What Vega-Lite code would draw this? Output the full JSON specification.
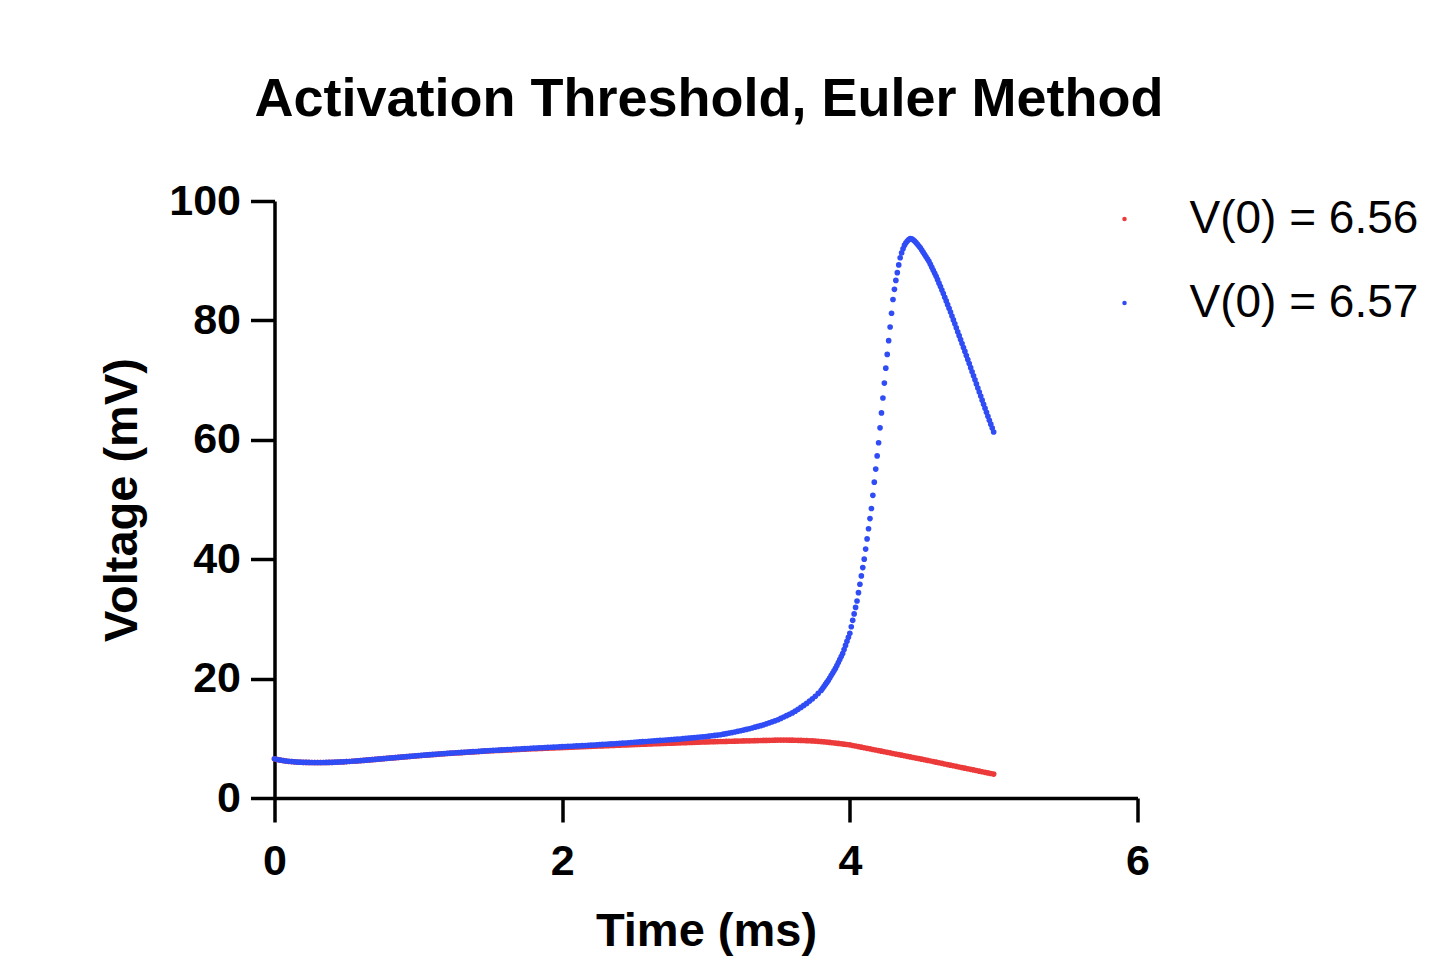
{
"$schema": "https://vega.github.io/schema/vega-lite/v6.json",
"width": 863,
"height": 597,
"autosize": {"type": "none"},
"padding": {"left": 274.5, "top": 201, "right": 311.5, "bottom": 171},
"background": "white",
"title": {"text": "Activation Threshold, Euler Method", "fontSize": 54, "font": "Liberation Sans", "fontWeight": "bold", "color": "black", "anchor": "middle", "offset": 53, "dx": 3},
"datasets": {
"red": [
{"t":0,"v":6.56},{"t":0.02,"v":6.44},{"t":0.04,"v":6.34},{"t":0.06,"v":6.26},{"t":0.08,"v":6.18},{"t":0.1,"v":6.12},{"t":0.12,"v":6.08},{"t":0.14,"v":6.04},{"t":0.16,"v":6.01},{"t":0.18,"v":5.99},
{"t":0.2,"v":5.97},{"t":0.22,"v":5.96},{"t":0.24,"v":5.95},{"t":0.26,"v":5.94},{"t":0.28,"v":5.93},{"t":0.3,"v":5.93},{"t":0.32,"v":5.93},{"t":0.34,"v":5.94},{"t":0.36,"v":5.95},{"t":0.38,"v":5.96},
{"t":0.4,"v":5.97},{"t":0.42,"v":5.99},{"t":0.44,"v":6.01},{"t":0.46,"v":6.03},{"t":0.48,"v":6.05},{"t":0.5,"v":6.08},{"t":0.52,"v":6.11},{"t":0.54,"v":6.15},{"t":0.56,"v":6.18},{"t":0.58,"v":6.22},
{"t":0.6,"v":6.25},{"t":0.62,"v":6.29},{"t":0.64,"v":6.34},{"t":0.66,"v":6.38},{"t":0.68,"v":6.42},{"t":0.7,"v":6.46},{"t":0.72,"v":6.51},{"t":0.74,"v":6.55},{"t":0.76,"v":6.59},{"t":0.78,"v":6.64},
{"t":0.8,"v":6.68},{"t":0.82,"v":6.72},{"t":0.84,"v":6.76},{"t":0.86,"v":6.8},{"t":0.88,"v":6.84},{"t":0.9,"v":6.88},{"t":0.92,"v":6.92},{"t":0.94,"v":6.96},{"t":0.96,"v":7.0},{"t":0.98,"v":7.04},
{"t":1.0,"v":7.08},{"t":1.02,"v":7.12},{"t":1.04,"v":7.16},{"t":1.06,"v":7.19},{"t":1.08,"v":7.23},{"t":1.1,"v":7.27},{"t":1.12,"v":7.3},{"t":1.14,"v":7.34},{"t":1.16,"v":7.38},{"t":1.18,"v":7.41},
{"t":1.2,"v":7.45},{"t":1.22,"v":7.48},{"t":1.24,"v":7.51},{"t":1.26,"v":7.54},{"t":1.28,"v":7.57},{"t":1.3,"v":7.6},{"t":1.32,"v":7.63},{"t":1.34,"v":7.66},{"t":1.36,"v":7.69},{"t":1.38,"v":7.72},
{"t":1.4,"v":7.75},{"t":1.42,"v":7.78},{"t":1.44,"v":7.81},{"t":1.46,"v":7.84},{"t":1.48,"v":7.87},{"t":1.5,"v":7.9},{"t":1.52,"v":7.92},{"t":1.54,"v":7.95},{"t":1.56,"v":7.97},{"t":1.58,"v":7.99},
{"t":1.6,"v":8.02},{"t":1.62,"v":8.04},{"t":1.64,"v":8.06},{"t":1.66,"v":8.09},{"t":1.68,"v":8.11},{"t":1.7,"v":8.13},{"t":1.72,"v":8.16},{"t":1.74,"v":8.18},{"t":1.76,"v":8.2},{"t":1.78,"v":8.23},
{"t":1.8,"v":8.25},{"t":1.82,"v":8.27},{"t":1.84,"v":8.29},{"t":1.86,"v":8.31},{"t":1.88,"v":8.33},{"t":1.9,"v":8.35},{"t":1.92,"v":8.37},{"t":1.94,"v":8.39},{"t":1.96,"v":8.41},{"t":1.98,"v":8.43},
{"t":2.0,"v":8.45},{"t":2.02,"v":8.47},{"t":2.04,"v":8.49},{"t":2.06,"v":8.51},{"t":2.08,"v":8.53},{"t":2.1,"v":8.55},{"t":2.12,"v":8.57},{"t":2.14,"v":8.59},{"t":2.16,"v":8.61},{"t":2.18,"v":8.63},
{"t":2.2,"v":8.65},{"t":2.22,"v":8.67},{"t":2.24,"v":8.69},{"t":2.26,"v":8.71},{"t":2.28,"v":8.73},{"t":2.3,"v":8.75},{"t":2.32,"v":8.77},{"t":2.34,"v":8.79},{"t":2.36,"v":8.81},{"t":2.38,"v":8.83},
{"t":2.4,"v":8.85},{"t":2.42,"v":8.87},{"t":2.44,"v":8.89},{"t":2.46,"v":8.91},{"t":2.48,"v":8.93},{"t":2.5,"v":8.95},{"t":2.52,"v":8.97},{"t":2.54,"v":8.99},{"t":2.56,"v":9.0},{"t":2.58,"v":9.02},
{"t":2.6,"v":9.04},{"t":2.62,"v":9.06},{"t":2.64,"v":9.08},{"t":2.66,"v":9.09},{"t":2.68,"v":9.11},{"t":2.7,"v":9.13},{"t":2.72,"v":9.15},{"t":2.74,"v":9.17},{"t":2.76,"v":9.18},{"t":2.78,"v":9.2},
{"t":2.8,"v":9.22},{"t":2.82,"v":9.24},{"t":2.84,"v":9.26},{"t":2.86,"v":9.27},{"t":2.88,"v":9.29},{"t":2.9,"v":9.31},{"t":2.92,"v":9.33},{"t":2.94,"v":9.35},{"t":2.96,"v":9.36},{"t":2.98,"v":9.38},
{"t":3.0,"v":9.4},{"t":3.02,"v":9.41},{"t":3.04,"v":9.42},{"t":3.06,"v":9.44},{"t":3.08,"v":9.45},{"t":3.1,"v":9.46},{"t":3.12,"v":9.47},{"t":3.14,"v":9.48},{"t":3.16,"v":9.5},{"t":3.18,"v":9.51},
{"t":3.2,"v":9.52},{"t":3.22,"v":9.53},{"t":3.24,"v":9.54},{"t":3.26,"v":9.56},{"t":3.28,"v":9.57},{"t":3.3,"v":9.58},{"t":3.32,"v":9.59},{"t":3.34,"v":9.6},{"t":3.36,"v":9.62},{"t":3.38,"v":9.63},
{"t":3.4,"v":9.64},{"t":3.42,"v":9.65},{"t":3.44,"v":9.66},{"t":3.46,"v":9.68},{"t":3.48,"v":9.69},{"t":3.5,"v":9.7},{"t":3.52,"v":9.7},{"t":3.54,"v":9.7},{"t":3.56,"v":9.7},{"t":3.58,"v":9.69},
{"t":3.6,"v":9.69},{"t":3.62,"v":9.68},{"t":3.64,"v":9.66},{"t":3.66,"v":9.65},{"t":3.68,"v":9.63},{"t":3.7,"v":9.61},{"t":3.72,"v":9.59},{"t":3.74,"v":9.56},{"t":3.76,"v":9.53},{"t":3.78,"v":9.49},
{"t":3.8,"v":9.45},{"t":3.82,"v":9.41},{"t":3.84,"v":9.36},{"t":3.86,"v":9.31},{"t":3.88,"v":9.26},{"t":3.9,"v":9.2},{"t":3.92,"v":9.14},{"t":3.94,"v":9.08},{"t":3.96,"v":9.02},{"t":3.98,"v":8.96},
{"t":4.0,"v":8.9},{"t":4.02,"v":8.8},{"t":4.04,"v":8.71},{"t":4.06,"v":8.61},{"t":4.08,"v":8.52},{"t":4.1,"v":8.42},{"t":4.12,"v":8.32},{"t":4.14,"v":8.23},{"t":4.16,"v":8.13},{"t":4.18,"v":8.04},
{"t":4.2,"v":7.94},{"t":4.22,"v":7.84},{"t":4.24,"v":7.75},{"t":4.26,"v":7.65},{"t":4.28,"v":7.56},{"t":4.3,"v":7.46},{"t":4.32,"v":7.36},{"t":4.34,"v":7.27},{"t":4.36,"v":7.17},{"t":4.38,"v":7.08},
{"t":4.4,"v":6.98},{"t":4.42,"v":6.88},{"t":4.44,"v":6.79},{"t":4.46,"v":6.69},{"t":4.48,"v":6.6},{"t":4.5,"v":6.5},{"t":4.52,"v":6.4},{"t":4.54,"v":6.3},{"t":4.56,"v":6.2},{"t":4.58,"v":6.1},
{"t":4.6,"v":6.0},{"t":4.62,"v":5.9},{"t":4.64,"v":5.8},{"t":4.66,"v":5.7},{"t":4.68,"v":5.6},{"t":4.7,"v":5.5},{"t":4.72,"v":5.4},{"t":4.74,"v":5.3},{"t":4.76,"v":5.2},{"t":4.78,"v":5.1},
{"t":4.8,"v":5.0},{"t":4.82,"v":4.9},{"t":4.84,"v":4.8},{"t":4.86,"v":4.7},{"t":4.88,"v":4.6},{"t":4.9,"v":4.5},{"t":4.92,"v":4.4},{"t":4.94,"v":4.3},{"t":4.96,"v":4.2},{"t":4.98,"v":4.1},
{"t":5.0,"v":4.0}
],
"blue": [
{"t":0,"v":6.57},{"t":0.02,"v":6.45},{"t":0.04,"v":6.35},{"t":0.06,"v":6.27},{"t":0.08,"v":6.19},{"t":0.1,"v":6.13},{"t":0.12,"v":6.09},{"t":0.14,"v":6.05},{"t":0.16,"v":6.02},{"t":0.18,"v":6.0},
{"t":0.2,"v":5.98},{"t":0.22,"v":5.97},{"t":0.24,"v":5.96},{"t":0.26,"v":5.95},{"t":0.28,"v":5.94},{"t":0.3,"v":5.94},{"t":0.32,"v":5.94},{"t":0.34,"v":5.95},{"t":0.36,"v":5.96},{"t":0.38,"v":5.97},
{"t":0.4,"v":5.98},{"t":0.42,"v":6.0},{"t":0.44,"v":6.02},{"t":0.46,"v":6.04},{"t":0.48,"v":6.06},{"t":0.5,"v":6.09},{"t":0.52,"v":6.12},{"t":0.54,"v":6.16},{"t":0.56,"v":6.19},{"t":0.58,"v":6.23},
{"t":0.6,"v":6.26},{"t":0.62,"v":6.3},{"t":0.64,"v":6.35},{"t":0.66,"v":6.39},{"t":0.68,"v":6.43},{"t":0.7,"v":6.47},{"t":0.72,"v":6.52},{"t":0.74,"v":6.56},{"t":0.76,"v":6.6},{"t":0.78,"v":6.65},
{"t":0.8,"v":6.69},{"t":0.82,"v":6.73},{"t":0.84,"v":6.77},{"t":0.86,"v":6.81},{"t":0.88,"v":6.85},{"t":0.9,"v":6.89},{"t":0.92,"v":6.94},{"t":0.94,"v":6.98},{"t":0.96,"v":7.02},{"t":0.98,"v":7.06},
{"t":1.0,"v":7.11},{"t":1.02,"v":7.15},{"t":1.04,"v":7.19},{"t":1.06,"v":7.22},{"t":1.08,"v":7.26},{"t":1.1,"v":7.3},{"t":1.12,"v":7.33},{"t":1.14,"v":7.37},{"t":1.16,"v":7.41},{"t":1.18,"v":7.44},
{"t":1.2,"v":7.48},{"t":1.22,"v":7.51},{"t":1.24,"v":7.54},{"t":1.26,"v":7.58},{"t":1.28,"v":7.61},{"t":1.3,"v":7.64},{"t":1.32,"v":7.67},{"t":1.34,"v":7.7},{"t":1.36,"v":7.73},{"t":1.38,"v":7.76},
{"t":1.4,"v":7.79},{"t":1.42,"v":7.82},{"t":1.44,"v":7.85},{"t":1.46,"v":7.89},{"t":1.48,"v":7.92},{"t":1.5,"v":7.95},{"t":1.52,"v":7.98},{"t":1.54,"v":8.0},{"t":1.56,"v":8.03},{"t":1.58,"v":8.06},
{"t":1.6,"v":8.08},{"t":1.62,"v":8.11},{"t":1.64,"v":8.13},{"t":1.66,"v":8.16},{"t":1.68,"v":8.19},{"t":1.7,"v":8.21},{"t":1.72,"v":8.24},{"t":1.74,"v":8.27},{"t":1.76,"v":8.29},{"t":1.78,"v":8.32},
{"t":1.8,"v":8.35},{"t":1.82,"v":8.37},{"t":1.84,"v":8.4},{"t":1.86,"v":8.42},{"t":1.88,"v":8.45},{"t":1.9,"v":8.47},{"t":1.92,"v":8.5},{"t":1.94,"v":8.52},{"t":1.96,"v":8.55},{"t":1.98,"v":8.57},
{"t":2.0,"v":8.6},{"t":2.02,"v":8.62},{"t":2.04,"v":8.65},{"t":2.06,"v":8.67},{"t":2.08,"v":8.7},{"t":2.1,"v":8.72},{"t":2.12,"v":8.75},{"t":2.14,"v":8.77},{"t":2.16,"v":8.8},{"t":2.18,"v":8.82},
{"t":2.2,"v":8.85},{"t":2.22,"v":8.88},{"t":2.24,"v":8.91},{"t":2.26,"v":8.94},{"t":2.28,"v":8.97},{"t":2.3,"v":9.0},{"t":2.32,"v":9.03},{"t":2.34,"v":9.06},{"t":2.36,"v":9.09},{"t":2.38,"v":9.12},
{"t":2.4,"v":9.15},{"t":2.42,"v":9.18},{"t":2.44,"v":9.22},{"t":2.46,"v":9.25},{"t":2.48,"v":9.29},{"t":2.5,"v":9.32},{"t":2.52,"v":9.36},{"t":2.54,"v":9.39},{"t":2.56,"v":9.43},{"t":2.58,"v":9.46},
{"t":2.6,"v":9.5},{"t":2.62,"v":9.53},{"t":2.64,"v":9.57},{"t":2.66,"v":9.6},{"t":2.68,"v":9.64},{"t":2.7,"v":9.67},{"t":2.72,"v":9.71},{"t":2.74,"v":9.74},{"t":2.76,"v":9.78},{"t":2.78,"v":9.81},
{"t":2.8,"v":9.85},{"t":2.82,"v":9.89},{"t":2.84,"v":9.94},{"t":2.86,"v":9.98},{"t":2.88,"v":10.03},{"t":2.9,"v":10.07},{"t":2.92,"v":10.12},{"t":2.94,"v":10.16},{"t":2.96,"v":10.21},{"t":2.98,"v":10.25},
{"t":3.0,"v":10.3},{"t":3.02,"v":10.36},{"t":3.04,"v":10.42},{"t":3.06,"v":10.48},{"t":3.08,"v":10.54},{"t":3.1,"v":10.6},{"t":3.12,"v":10.69},{"t":3.14,"v":10.78},{"t":3.16,"v":10.87},{"t":3.18,"v":10.96},
{"t":3.2,"v":11.05},{"t":3.22,"v":11.16},{"t":3.24,"v":11.27},{"t":3.26,"v":11.38},{"t":3.28,"v":11.49},{"t":3.3,"v":11.6},{"t":3.32,"v":11.73},{"t":3.34,"v":11.86},{"t":3.36,"v":11.99},{"t":3.38,"v":12.12},
{"t":3.4,"v":12.25},{"t":3.42,"v":12.42},{"t":3.44,"v":12.59},{"t":3.46,"v":12.76},{"t":3.48,"v":12.93},{"t":3.5,"v":13.1},{"t":3.52,"v":13.33},{"t":3.54,"v":13.56},{"t":3.56,"v":13.79},{"t":3.58,"v":14.02},
{"t":3.6,"v":14.25},{"t":3.62,"v":14.55},{"t":3.64,"v":14.85},{"t":3.66,"v":15.17},{"t":3.68,"v":15.51},{"t":3.7,"v":15.85},{"t":3.72,"v":16.23},{"t":3.74,"v":16.61},{"t":3.76,"v":17.04},{"t":3.78,"v":17.52},
{"t":3.8,"v":18.0},{"t":3.81,"v":18.34},{"t":3.82,"v":18.68},{"t":3.83,"v":19.02},{"t":3.84,"v":19.36},{"t":3.85,"v":19.7},{"t":3.86,"v":20.1},{"t":3.87,"v":20.5},{"t":3.88,"v":20.9},{"t":3.89,"v":21.3},
{"t":3.9,"v":21.7},{"t":3.91,"v":22.2},{"t":3.92,"v":22.7},{"t":3.93,"v":23.2},{"t":3.94,"v":23.7},{"t":3.95,"v":24.2},{"t":3.96,"v":24.88},{"t":3.97,"v":25.56},{"t":3.98,"v":26.24},{"t":3.99,"v":26.92},
{"t":4.0,"v":27.6},{"t":4.01,"v":28.68},{"t":4.02,"v":29.76},{"t":4.03,"v":30.84},{"t":4.04,"v":31.92},{"t":4.05,"v":33.0},{"t":4.06,"v":34.4},{"t":4.07,"v":35.8},{"t":4.08,"v":37.2},{"t":4.09,"v":38.6},
{"t":4.1,"v":40.0},{"t":4.11,"v":41.7},{"t":4.12,"v":43.4},{"t":4.13,"v":45.1},{"t":4.14,"v":46.8},{"t":4.15,"v":48.5},{"t":4.16,"v":50.7},{"t":4.17,"v":52.9},{"t":4.18,"v":55.1},{"t":4.19,"v":57.3},
{"t":4.2,"v":59.5},{"t":4.21,"v":62.0},{"t":4.22,"v":64.5},{"t":4.23,"v":67.0},{"t":4.24,"v":69.5},{"t":4.25,"v":72.0},{"t":4.26,"v":74.3},{"t":4.27,"v":76.6},{"t":4.28,"v":78.9},{"t":4.29,"v":81.2},
{"t":4.3,"v":83.5},{"t":4.31,"v":85.2},{"t":4.32,"v":86.7},{"t":4.33,"v":88.0},{"t":4.34,"v":89.3},{"t":4.35,"v":90.5},{"t":4.36,"v":91.3},{"t":4.37,"v":92.0},{"t":4.38,"v":92.6},{"t":4.39,"v":93.0},
{"t":4.4,"v":93.3},{"t":4.41,"v":93.55},{"t":4.42,"v":93.7},{"t":4.43,"v":93.65},{"t":4.44,"v":93.5},{"t":4.45,"v":93.3},{"t":4.46,"v":93.05},{"t":4.47,"v":92.75},{"t":4.48,"v":92.45},{"t":4.49,"v":92.15},
{"t":4.5,"v":91.8},{"t":4.51,"v":91.42},{"t":4.52,"v":91.04},{"t":4.53,"v":90.66},{"t":4.54,"v":90.28},{"t":4.55,"v":89.9},{"t":4.56,"v":89.4},{"t":4.57,"v":88.9},{"t":4.58,"v":88.4},{"t":4.59,"v":87.9},
{"t":4.6,"v":87.4},{"t":4.61,"v":86.82},{"t":4.62,"v":86.24},{"t":4.63,"v":85.66},{"t":4.64,"v":85.08},{"t":4.65,"v":84.5},{"t":4.66,"v":83.88},{"t":4.67,"v":83.26},{"t":4.68,"v":82.64},{"t":4.69,"v":82.02},
{"t":4.7,"v":81.4},{"t":4.71,"v":80.74},{"t":4.72,"v":80.08},{"t":4.73,"v":79.42},{"t":4.74,"v":78.76},{"t":4.75,"v":78.1},{"t":4.76,"v":77.44},{"t":4.77,"v":76.78},{"t":4.78,"v":76.12},{"t":4.79,"v":75.46},
{"t":4.8,"v":74.8},{"t":4.81,"v":74.12},{"t":4.82,"v":73.44},{"t":4.83,"v":72.76},{"t":4.84,"v":72.08},{"t":4.85,"v":71.4},{"t":4.86,"v":70.72},{"t":4.87,"v":70.04},{"t":4.88,"v":69.36},{"t":4.89,"v":68.68},
{"t":4.9,"v":68.0},{"t":4.91,"v":67.32},{"t":4.92,"v":66.64},{"t":4.93,"v":65.96},{"t":4.94,"v":65.28},{"t":4.95,"v":64.6},{"t":4.96,"v":63.94},{"t":4.97,"v":63.28},{"t":4.98,"v":62.62},{"t":4.99,"v":61.96},
{"t":5.0,"v":61.3}
]
},
"encoding": {
"x": {"field": "t", "type": "quantitative", "scale": {"domain": [0, 6], "nice": false},
"axis": {"title": "Time (ms)", "values": [0, 2, 4, 6], "format": "d", "grid": false, "labelFlush": false, "domainWidth": 3.5, "domainColor": "black", "tickColor": "black", "tickWidth": 3.5, "tickSize": 24, "labelFontSize": 43, "labelFont": "Liberation Sans", "labelFontWeight": "bold", "labelColor": "black", "labelPadding": 18, "titleFontSize": 47, "titleFont": "Liberation Sans", "titleFontWeight": "bold", "titleColor": "black", "titlePadding": 25}},
"y": {"field": "v", "type": "quantitative", "scale": {"domain": [0, 100], "nice": false},
"axis": {"title": "Voltage (mV)", "values": [0, 20, 40, 60, 80, 100], "format": "d", "grid": false, "labelFlush": false, "domainWidth": 3.5, "domainColor": "black", "tickColor": "black", "tickWidth": 3.5, "tickSize": 24, "labelFontSize": 43, "labelFont": "Liberation Sans", "labelFontWeight": "bold", "labelColor": "black", "labelPadding": 10, "titleFontSize": 47, "titleFont": "Liberation Sans", "titleFontWeight": "bold", "titleColor": "black", "titlePadding": 22}}
},
"layer": [
{"data": {"name": "red"}, "mark": {"type": "point", "filled": true, "size": 32, "opacity": 1, "strokeWidth": 0},
"encoding": {"color": {"datum": "V(0) = 6.56", "type": "nominal", "scale": {"domain": ["V(0) = 6.56", "V(0) = 6.57"], "range": ["#ec3a3a", "#2f4cf5"]},
"legend": {"title": null, "orient": "none", "legendX": 827, "legendY": -5, "padding": 0, "symbolType": "circle", "symbolSize": 20, "symbolStrokeWidth": 0, "labelFontSize": 46, "labelFont": "Liberation Sans", "labelColor": "black", "labelOffset": 42, "rowPadding": 38, "labelLimit": 400}}}},
{"data": {"name": "blue"}, "mark": {"type": "point", "filled": true, "size": 32, "opacity": 1, "strokeWidth": 0},
"encoding": {"color": {"datum": "V(0) = 6.57", "type": "nominal"}}}
],
"config": {"view": {"stroke": null}, "font": "Liberation Sans"}
}
